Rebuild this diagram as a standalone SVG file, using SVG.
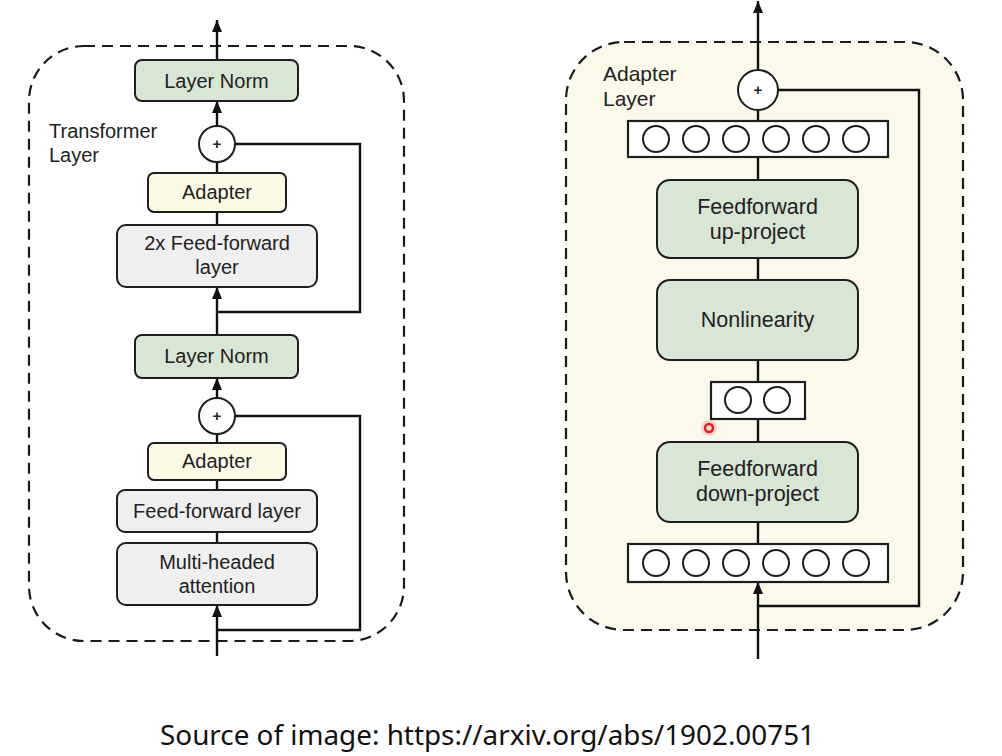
<svg xmlns="http://www.w3.org/2000/svg" width="1002" height="756" viewBox="0 0 1002 756">
<style>
.bg{fill:#ffffff}
.panel{fill:none;stroke:#1a1a1a;stroke-width:2.2;stroke-dasharray:11 7}
.panel2{fill:#faf9ea;stroke:#1a1a1a;stroke-width:2.2;stroke-dasharray:11 7}
.green{fill:#d8e6d4;stroke:#1e1e1e;stroke-width:2}
.cream{fill:#fbf9e6;stroke:#1e1e1e;stroke-width:2}
.gray{fill:#efefef;stroke:#1e1e1e;stroke-width:2}
.bar{fill:#ffffff;stroke:#1e1e1e;stroke-width:2.2}
.neuron{fill:#ffffff;stroke:#1e1e1e;stroke-width:2}
.sum{fill:#ffffff;stroke:#1e1e1e;stroke-width:2}
.line{fill:none;stroke:#111;stroke-width:2.4}
.t{font-family:"Liberation Sans",Arial,sans-serif;font-size:20px;fill:#222;text-anchor:middle}
.tr{font-family:"Liberation Sans",Arial,sans-serif;font-size:21.5px;fill:#222;text-anchor:middle}
.lab{font-family:"Liberation Sans",Arial,sans-serif;font-size:20px;fill:#222}
.plus{font-family:"Liberation Sans",Arial,sans-serif;font-size:15px;font-weight:bold;fill:#222;text-anchor:middle}
.src{font-family:"Noto Sans","Open Sans",sans-serif;font-size:28px;fill:#111}
</style>
<defs>
<marker id="arr" viewBox="0 0 12 10" refX="12" refY="5" markerWidth="12" markerHeight="10" markerUnits="userSpaceOnUse" orient="auto">
<path d="M0,0 L12,5 L0,10 Z" fill="#111"/>
</marker>
</defs>
<rect class="bg" x="0" y="0" width="1002" height="756"/>

<!-- panels -->
<rect id="transformer-panel" class="panel" x="29" y="46" width="375" height="595" rx="55" ry="55"/>
<rect id="adapter-panel" class="panel2" x="566" y="42" width="397" height="588" rx="58" ry="58"/>

<g id="connectors">
<!-- left column -->
<line class="line" x1="217" y1="60" x2="217" y2="20" marker-end="url(#arr)"/>
<line class="line" x1="217" y1="126" x2="217" y2="101" marker-end="url(#arr)"/>
<line class="line" x1="217" y1="173" x2="217" y2="162"/>
<line class="line" x1="217" y1="225" x2="217" y2="212"/>
<line class="line" x1="217" y1="334" x2="217" y2="287" marker-end="url(#arr)"/>
<polyline class="line" points="235,144 360,144 360,312 217,312"/>
<line class="line" x1="217" y1="398" x2="217" y2="378" marker-end="url(#arr)"/>
<line class="line" x1="217" y1="443" x2="217" y2="434"/>
<line class="line" x1="217" y1="490" x2="217" y2="480"/>
<line class="line" x1="217" y1="543" x2="217" y2="532"/>
<line class="line" x1="217" y1="656" x2="217" y2="605" marker-end="url(#arr)"/>
<polyline class="line" points="235,416 360,416 360,630 217,630"/>
<!-- right column -->
<line class="line" x1="758" y1="70" x2="758" y2="1" marker-end="url(#arr)"/>
<line class="line" x1="758" y1="121" x2="758" y2="110"/>
<line class="line" x1="758" y1="180" x2="758" y2="157"/>
<line class="line" x1="758" y1="280" x2="758" y2="258"/>
<line class="line" x1="758" y1="382" x2="758" y2="360"/>
<line class="line" x1="758" y1="442" x2="758" y2="419"/>
<line class="line" x1="758" y1="544" x2="758" y2="522"/>
<line class="line" x1="758" y1="659" x2="758" y2="582" marker-end="url(#arr)"/>
<polyline class="line" points="778,90 919,90 919,606 758,606"/>
</g>

<!-- left nodes -->
<g id="layer-norm-top">
<rect class="green" x="135" y="60" width="163" height="41" rx="7"/>
<text class="t" x="216.5" y="87.5">Layer Norm</text>
</g>
<text class="lab" x="49" y="138">Transformer</text>
<text class="lab" x="49" y="162">Layer</text>
<g id="sum-top">
<circle class="sum" cx="217" cy="144" r="18"/>
<text class="plus" x="217" y="149">+</text>
</g>
<g id="adapter-top">
<rect class="cream" x="148" y="173" width="138" height="39" rx="6"/>
<text class="t" x="217" y="199">Adapter</text>
</g>
<g id="ff2x">
<rect class="gray" x="117" y="225" width="200" height="62" rx="9"/>
<text class="t" x="217" y="250">2x Feed-forward</text>
<text class="t" x="217" y="274">layer</text>
</g>
<g id="layer-norm-bottom">
<rect class="green" x="135" y="335" width="163" height="43" rx="7"/>
<text class="t" x="216.5" y="363">Layer Norm</text>
</g>
<g id="sum-bottom">
<circle class="sum" cx="217" cy="416" r="18"/>
<text class="plus" x="217" y="421">+</text>
</g>
<g id="adapter-bottom">
<rect class="cream" x="148" y="443" width="138" height="37" rx="6"/>
<text class="t" x="217" y="468">Adapter</text>
</g>
<g id="ff-layer">
<rect class="gray" x="117" y="490" width="200" height="42" rx="8"/>
<text class="t" x="217" y="518">Feed-forward layer</text>
</g>
<g id="mha">
<rect class="gray" x="117" y="543" width="200" height="62" rx="9"/>
<text class="t" x="217" y="569">Multi-headed</text>
<text class="t" x="217" y="593">attention</text>
</g>

<!-- right nodes -->
<text class="lab" x="603" y="81" style="font-size:21px">Adapter</text>
<text class="lab" x="603" y="106" style="font-size:21px">Layer</text>
<g id="sum-adapter">
<circle class="sum" cx="758" cy="90" r="20"/>
<text class="plus" x="758" y="95">+</text>
</g>
<g id="bar-top">
<rect class="bar" x="628" y="121" width="260" height="36"/>
<circle class="neuron" cx="656" cy="139" r="13"/>
<circle class="neuron" cx="696" cy="139" r="13"/>
<circle class="neuron" cx="736" cy="139" r="13"/>
<circle class="neuron" cx="776" cy="139" r="13"/>
<circle class="neuron" cx="816" cy="139" r="13"/>
<circle class="neuron" cx="856" cy="139" r="13"/>
</g>
<g id="up-project">
<rect class="green" x="657" y="180" width="201" height="78" rx="13"/>
<text class="tr" x="757.5" y="214">Feedforward</text>
<text class="tr" x="757.5" y="239">up-project</text>
</g>
<g id="nonlinearity">
<rect class="green" x="657" y="280" width="201" height="80" rx="13"/>
<text class="tr" x="757.5" y="327">Nonlinearity</text>
</g>
<g id="bar-middle">
<rect class="bar" x="711" y="382" width="94" height="37"/>
<circle class="neuron" cx="738" cy="400" r="13"/>
<circle class="neuron" cx="777" cy="400" r="13"/>
</g>
<g id="down-project">
<rect class="green" x="657" y="442" width="201" height="80" rx="13"/>
<text class="tr" x="757.5" y="476">Feedforward</text>
<text class="tr" x="757.5" y="501">down-project</text>
</g>
<g id="bar-bottom">
<rect class="bar" x="628" y="544" width="260" height="38"/>
<circle class="neuron" cx="656" cy="563" r="13"/>
<circle class="neuron" cx="696" cy="563" r="13"/>
<circle class="neuron" cx="736" cy="563" r="13"/>
<circle class="neuron" cx="776" cy="563" r="13"/>
<circle class="neuron" cx="816" cy="563" r="13"/>
<circle class="neuron" cx="856" cy="563" r="13"/>
</g>

<!-- pointer highlight -->
<circle cx="709" cy="428" r="8" fill="#f4b0b0" opacity="0.5"/>
<circle cx="709" cy="428" r="4" fill="none" stroke="#e02020" stroke-width="2.5"/>

<text class="src" x="160" y="745" textLength="655" lengthAdjust="spacingAndGlyphs">Source of image: https://arxiv.org/abs/1902.00751</text>
</svg>
